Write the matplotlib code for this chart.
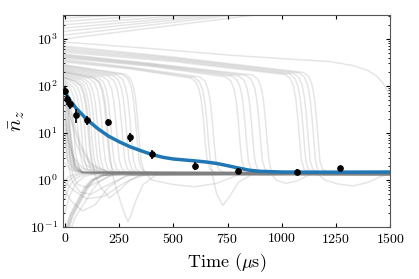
import matplotlib
matplotlib.use("Agg")
import matplotlib.pyplot as plt

plt.rcParams['font.family'] = 'serif'
plt.rcParams['font.serif'] = ['cmr10']
plt.rcParams['mathtext.fontset'] = 'cm'
plt.rcParams['axes.unicode_minus'] = False
plt.rcParams['axes.formatter.use_mathtext'] = True

# measured mean phonon number (black points)
t_exp = [0, 8, 25, 50, 100, 200, 300, 400, 600, 800, 1070, 1270]
n_exp = [79, 52, 42, 24, 19, 17, 8.1, 3.6, 2.0, 1.58, 1.48, 1.8]
n_err = [14, 13, 10, 8, 4, 3, 1.8, 0.8, 0.4, 0.25, 0.2, 0.22]

# ensemble average (blue)
t_fit = [0, 25, 50, 100, 150, 200, 250, 300, 350, 400, 450, 500, 600, 650, 700,
         750, 800, 850, 900, 1000, 1100, 1250, 1500]
n_fit = [72, 48, 34, 19.5, 12.5, 8.6, 6.5, 5.1, 4.2, 3.5, 3.05, 2.8, 2.55, 2.42, 2.25,
         2.02, 1.8, 1.62, 1.53, 1.48, 1.47, 1.47, 1.48]

# single trajectories (grey), one (t, n) pair per curve
hot_curves = [
    ([0, 920], [1000, 3400]),
    ([0, 830], [1200, 3400]),
    ([0, 780], [1450, 3400]),
    ([0, 720], [1700, 3400]),
    ([0, 640], [2000, 3400]),
    ([0, 500], [2350, 3400]),
    ([0, 330], [2750, 3400]),
    ([0, 150], [3100, 3400]),
]

late_curves = [
    ([0, 400, 760, 1000, 1220, 1330, 1400, 1440, 1470, 1490, 1500],
     [850, 620, 450, 380, 330, 270, 210, 160, 110, 75, 55]),
    ([0, 500, 1015, 1040, 1055, 1065, 1075, 1083, 1091, 1103, 1125, 1175, 1500],
     [520, 330, 175, 143, 95, 53, 19, 6.7, 2.6, 1.7, 1.48, 1.40, 1.40]),
    ([0, 500, 1035, 1060, 1075, 1085, 1095, 1103, 1111, 1123, 1145, 1195, 1500],
     [560, 350, 179, 146, 98, 55, 19.5, 6.8, 2.6, 1.7, 1.48, 1.27, 1.27]),
    ([0, 500, 1055, 1080, 1095, 1105, 1115, 1123, 1131, 1143, 1165, 1215, 1500],
     [600, 370, 184, 150, 100, 56, 20, 7, 2.6, 1.7, 1.48, 1.46, 1.46]),
    ([0, 500, 1080, 1105, 1120, 1130, 1140, 1148, 1156, 1170, 1200, 1260, 1330, 1400, 1460, 1500],
     [650, 390, 189, 154, 103, 57, 20.5, 7.2, 2.6, 1.3, 1.0, 0.82, 0.75, 0.9, 1.2, 1.35]),
    ([0, 500, 1100, 1125, 1140, 1150, 1160, 1168, 1176, 1188, 1210, 1260, 1500],
     [700, 410, 193, 158, 105, 59, 21, 7.4, 2.6, 1.7, 1.48, 1.33, 1.33]),
    ([0, 400, 740, 765, 780, 790, 800, 808, 816, 828, 850, 900, 1500],
     [390, 260, 156, 128, 85, 48, 17, 6, 2.6, 1.7, 1.48, 1.29, 1.29]),
    ([0, 400, 770, 795, 810, 820, 830, 838, 846, 858, 880, 930, 1500],
     [410, 270, 161, 131, 88, 49, 17.5, 6.1, 2.6, 1.7, 1.48, 1.41, 1.41]),
    ([0, 400, 800, 825, 840, 850, 860, 868, 876, 888, 910, 960, 1500],
     [430, 280, 164, 134, 89, 50, 17.8, 6.2, 2.6, 1.7, 1.48, 1.37, 1.37]),
    ([0, 400, 835, 860, 875, 885, 895, 903, 911, 923, 945, 995, 1500],
     [450, 290, 167, 137, 91, 51, 18, 6.4, 2.6, 1.7, 1.48, 1.44, 1.44]),
    ([0, 400, 865, 890, 905, 915, 925, 933, 941, 955, 975, 1020, 1070, 1130, 1500],
     [470, 300, 170, 139, 93, 52, 18.5, 6.5, 2.6, 1.3, 1.0, 0.85, 0.95, 1.3, 1.39]),
    ([0, 300, 580, 605, 620, 630, 640, 648, 656, 668, 690, 740, 1500],
     [320, 230, 147, 120, 80, 45, 16, 5.6, 2.6, 1.7, 1.48, 1.35, 1.35]),
    ([0, 300, 595, 620, 635, 645, 655, 663, 671, 685, 700, 728, 760, 800, 860, 1500],
     [340, 240, 152, 124, 83, 46, 16.5, 5.8, 2.4, 1.0, 0.5, 0.29, 0.45, 0.9, 1.3, 1.41]),
    ([0, 300, 620, 645, 660, 670, 680, 688, 696, 708, 730, 780, 1500],
     [360, 250, 156, 128, 85, 48, 17, 6, 2.6, 1.7, 1.48, 1.31, 1.31]),
]

drop_curves = [
    ([0, 5, 15, 25, 33, 41, 53, 75, 125, 1500],
     [105, 80, 40, 10.5, 3.7, 2.6, 1.7, 1.48, 1.38, 1.38]),
    ([0, 5, 20, 30, 40, 48, 56, 68, 90, 140, 1500],
     [120, 90, 60, 34, 12, 4.2, 2.6, 1.7, 1.48, 1.28, 1.28]),
    ([0, 25, 40, 50, 60, 68, 76, 88, 110, 160, 1500],
     [125, 88, 59, 33, 11.8, 4.1, 2.6, 1.7, 1.48, 1.42, 1.42]),
    ([0, 15, 40, 55, 65, 75, 83, 91, 103, 125, 175, 1500],
     [135, 115, 94, 62, 35, 12.5, 4.4, 2.6, 1.7, 1.48, 1.30, 1.30]),
    ([0, 30, 55, 70, 80, 90, 98, 106, 118, 140, 190, 1500],
     [145, 121, 99, 66, 37, 13, 4.6, 2.6, 1.7, 1.48, 1.40, 1.40]),
    ([0, 45, 70, 85, 95, 105, 113, 121, 133, 155, 205, 1500],
     [150, 125, 102, 68, 38, 13.6, 4.8, 2.6, 1.7, 1.48, 1.46, 1.46]),
    ([0, 60, 85, 100, 110, 120, 128, 136, 148, 170, 220, 1500],
     [160, 131, 107, 71, 40, 14, 5, 2.6, 1.7, 1.48, 1.35, 1.35]),
    ([0, 75, 100, 115, 125, 135, 143, 151, 163, 185, 235, 1500],
     [170, 136, 111, 74, 41, 15, 5.2, 2.6, 1.7, 1.48, 1.41, 1.41]),
    ([0, 90, 115, 130, 140, 150, 158, 166, 178, 200, 250, 1500],
     [180, 140, 114, 76, 43, 15, 5.3, 2.6, 1.7, 1.48, 1.32, 1.32]),
    ([0, 110, 135, 150, 160, 170, 178, 186, 198, 220, 270, 1500],
     [190, 145, 119, 79, 44, 16, 5.5, 2.6, 1.7, 1.48, 1.39, 1.39]),
    ([0, 130, 155, 170, 180, 190, 198, 206, 218, 240, 290, 1500],
     [200, 149, 122, 81, 45, 16, 5.7, 2.6, 1.7, 1.48, 1.45, 1.45]),
    ([0, 150, 175, 190, 200, 210, 218, 226, 238, 260, 310, 1500],
     [210, 153, 125, 83, 46, 17, 5.8, 2.6, 1.7, 1.48, 1.26, 1.26]),
    ([0, 175, 200, 215, 225, 235, 243, 251, 263, 285, 335, 1500],
     [220, 156, 128, 85, 48, 17, 6, 2.6, 1.7, 1.48, 1.42, 1.42]),
    ([0, 200, 225, 240, 250, 260, 268, 276, 288, 310, 360, 1500],
     [232, 161, 131, 88, 49, 17.5, 6.1, 2.6, 1.7, 1.48, 1.34, 1.34]),
    ([0, 220, 245, 260, 270, 280, 288, 296, 308, 330, 380, 1500],
     [245, 166, 135, 90, 50, 18, 6.3, 2.6, 1.7, 1.48, 1.38, 1.38]),
    ([0, 240, 265, 280, 290, 300, 308, 316, 328, 350, 400, 1500],
     [258, 170, 139, 92, 52, 18.5, 6.5, 2.6, 1.7, 1.48, 1.44, 1.44]),
    ([0, 265, 290, 305, 315, 325, 333, 341, 353, 375, 425, 1500],
     [270, 175, 142, 95, 53, 19, 6.6, 2.6, 1.7, 1.48, 1.36, 1.36]),
    ([0, 50, 75, 90, 100, 110, 118, 126, 140, 165, 205, 250, 300, 380, 1500],
     [150, 125, 102, 68, 38, 13.6, 4.8, 2.4, 1.2, 0.7, 0.42, 0.6, 1.0, 1.35, 1.39]),
    ([0, 135, 160, 175, 185, 195, 203, 211, 225, 245, 270, 290, 305, 325, 360, 420, 1500],
     [195, 147, 120, 80, 45, 16, 5.6, 2.5, 1.0, 0.5, 0.22, 0.13, 0.18, 0.35, 0.8, 1.3, 1.40]),
    ([0, 275, 300, 315, 325, 335, 343, 351, 365, 400, 500, 600, 700, 800, 1500],
     [280, 179, 146, 98, 55, 19.5, 6.8, 2.6, 1.5, 1.0, 0.8, 0.72, 0.85, 1.3, 1.40]),
]

fast_curves = [
    ([0, 10, 25, 45, 80, 1500], [90, 40, 10, 2.5, 1.45, 1.41]),
    ([0, 10, 25, 45, 80, 1500], [60, 28, 7, 2.2, 1.45, 1.36]),
    ([0, 10, 25, 45, 80, 1500], [40, 20, 5.5, 2.0, 1.45, 1.43]),
    ([0, 10, 25, 45, 80, 1500], [25, 13, 4.5, 1.9, 1.45, 1.29]),
    ([0, 10, 25, 45, 80, 1500], [15, 8.5, 3.5, 1.8, 1.45, 1.40]),
    ([0, 10, 25, 45, 80, 1500], [9, 5.5, 2.8, 1.7, 1.45, 1.38]),
    ([0, 10, 25, 45, 80, 1500], [5.5, 3.8, 2.3, 1.6, 1.45, 1.46]),
    ([0, 10, 25, 45, 80, 1500], [3.5, 2.8, 2.0, 1.6, 1.45, 1.33]),
    ([0, 10, 25, 45, 80, 1500], [2.3, 2.0, 1.7, 1.5, 1.44, 1.41]),
    ([0, 30, 70, 120, 200, 1500], [70, 25, 6, 2.2, 1.5, 1.39]),
    ([0, 30, 70, 120, 200, 1500], [45, 18, 5, 2.0, 1.45, 1.44]),
    ([0, 20, 50, 100, 160, 1500], [100, 30, 6, 2.0, 1.5, 1.30]),
    ([0, 15, 40, 80, 140, 1500], [18, 7, 3, 1.8, 1.5, 1.37]),
    ([0, 15, 35, 60, 100, 150, 220, 1500], [30, 6, 1.3, 0.8, 0.7, 0.9, 1.3, 1.40]),
    ([0, 10, 30, 70, 120, 200, 300, 1500], [12, 3, 1.0, 0.55, 0.5, 0.8, 1.3, 1.37]),
]

rise_curves = [
    ([13, 30, 67, 100, 128, 170, 250, 1500], [0.1, 0.18, 0.37, 0.7, 1.0, 1.25, 1.38, 1.40]),
    ([17, 34, 71, 104, 132, 175, 255, 1500], [0.1, 0.18, 0.37, 0.7, 1.0, 1.25, 1.37, 1.35]),
    ([20, 38, 75, 108, 136, 180, 260, 1500], [0.1, 0.18, 0.37, 0.7, 1.0, 1.25, 1.37, 1.38]),
    ([9, 26, 62, 95, 124, 168, 245, 1500], [0.1, 0.18, 0.37, 0.7, 1.0, 1.25, 1.38, 1.42]),
    ([6, 22, 58, 90, 120, 165, 240, 1500], [0.1, 0.18, 0.37, 0.7, 1.0, 1.25, 1.38, 1.31]),
    ([30, 50, 90, 125, 155, 200, 280, 1500], [0.1, 0.17, 0.33, 0.6, 0.9, 1.2, 1.37, 1.39]),
    ([0, 20, 50, 90, 150, 1500], [0.2, 0.45, 0.85, 1.2, 1.38, 1.41]),
    ([0, 20, 50, 90, 150, 1500], [0.4, 0.75, 1.1, 1.3, 1.4, 1.36]),
    ([0, 20, 50, 90, 150, 1500], [0.7, 1.0, 1.25, 1.38, 1.42, 1.43]),
    ([0, 20, 50, 90, 150, 1500], [1.0, 1.2, 1.35, 1.42, 1.43, 1.28]),
    ([0, 40, 100, 180, 260, 350, 1500], [0.9, 0.6, 0.4, 0.45, 0.8, 1.3, 1.40]),
    ([0, 30, 80, 140, 200, 280, 1500], [0.6, 0.35, 0.22, 0.3, 0.7, 1.25, 1.38]),
]

fig = plt.figure(figsize=(4.19, 2.79), dpi=100)
ax = fig.add_axes([0.150, 0.186, 0.781, 0.760])

for group in [hot_curves, late_curves, drop_curves, fast_curves, rise_curves]:
    for t, n in group:
        ax.plot(t, n, color='gray', alpha=0.2, lw=1.1, zorder=1)

ax.plot(t_fit, n_fit, color='#1f77b4', lw=2.5, zorder=3)
ax.errorbar(t_exp, n_exp, yerr=n_err, fmt='o', color='black', ms=3.8,
            elinewidth=1.2, capsize=0, zorder=4)

ax.set_yscale('log')
ax.set_xlim(-10, 1500)
ax.set_ylim(0.1, 3200)
ax.set_xticks([0, 250, 500, 750, 1000, 1250, 1500])
ax.tick_params(which='both', direction='in', top=True, right=True, labelsize=10)
ax.tick_params(which='major', length=3)
ax.tick_params(which='minor', length=1.5)
for s in ax.spines.values():
    s.set_color('#555555')

ax.set_xlabel(r'Time ($\mu$s)', fontsize=13)
ax.set_ylabel(r'$\bar{n}_z$', fontsize=15, labelpad=2)

fig.savefig('out.png', dpi=100)
